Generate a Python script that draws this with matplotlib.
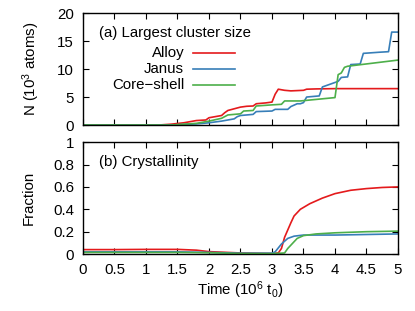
import matplotlib
matplotlib.use("Agg")
import matplotlib.pyplot as plt

plt.rcParams['font.family'] = ['Liberation Sans', 'DejaVu Sans']
plt.rcParams['mathtext.fontset'] = 'custom'
plt.rcParams['mathtext.rm'] = 'Liberation Sans'
plt.rcParams['mathtext.it'] = 'Liberation Sans'
plt.rcParams['font.size'] = 10.8

# ---- data: (a) largest cluster size (10^3 atoms) ----
alloy_t = [0, 1.2, 1.4, 1.6, 1.8, 1.95, 2.0, 2.1, 2.2, 2.25, 2.3, 2.4, 2.5, 2.6, 2.7, 2.75, 2.9, 3.0, 3.05, 3.1, 3.2, 3.3, 3.5, 3.55, 3.7, 4.0, 5.0]
alloy_n = [0, 0, 0.15, 0.4, 0.8, 0.9, 1.3, 1.5, 1.7, 2.2, 2.6, 2.9, 3.2, 3.35, 3.4, 3.8, 3.95, 4.1, 5.5, 6.4, 6.2, 6.1, 6.2, 6.4, 6.45, 6.5, 6.5]

janus_t = [0, 1.4, 1.8, 2.0, 2.2, 2.4, 2.45, 2.5, 2.7, 2.75, 3.0, 3.05, 3.25, 3.3, 3.4, 3.45, 3.5, 3.55, 3.75, 3.8, 4.0, 4.05, 4.1, 4.2, 4.25, 4.4, 4.45, 4.7, 4.85, 4.9, 5.0]
janus_n = [0, 0, 0.2, 0.4, 0.7, 1.1, 1.5, 1.7, 1.9, 2.4, 2.5, 2.8, 2.8, 3.3, 3.8, 3.8, 4.0, 5.0, 5.2, 6.8, 7.6, 7.8, 8.5, 8.6, 10.8, 10.9, 12.8, 13.0, 13.1, 16.6, 16.6]

core_t = [0, 1.4, 1.8, 2.0, 2.2, 2.3, 2.5, 2.55, 2.7, 2.75, 3.0, 3.15, 3.2, 3.45, 4.0, 4.05, 4.1, 4.15, 4.2, 5.0]
core_n = [0, 0, 0.3, 0.7, 1.2, 1.8, 2.0, 2.5, 2.6, 3.4, 3.6, 3.7, 4.3, 4.3, 4.9, 9.0, 9.3, 10.3, 10.5, 11.6]

# ---- data: (b) crystallinity fraction ----
alloy_ct = [0, 0.5, 1.0, 1.5, 1.8, 2.0, 2.5, 3.0, 3.1, 3.15, 3.2, 3.3, 3.35, 3.45, 3.6, 3.8, 4.0, 4.25, 4.5, 4.75, 5.0]
alloy_c = [0.04, 0.04, 0.042, 0.042, 0.035, 0.022, 0.01, 0.005, 0.01, 0.05, 0.15, 0.28, 0.34, 0.40, 0.45, 0.50, 0.54, 0.57, 0.585, 0.595, 0.60]

janus_ct = [0, 1.5, 2.0, 2.5, 3.0, 3.05, 3.15, 3.25, 3.35, 3.5, 4.0, 4.5, 5.0]
janus_c = [0.02, 0.02, 0.015, 0.008, 0.008, 0.02, 0.09, 0.14, 0.16, 0.17, 0.17, 0.175, 0.18]

core_ct = [0, 1.5, 2.0, 2.5, 3.0, 3.2, 3.25, 3.3, 3.4, 3.5, 3.7, 4.0, 4.5, 5.0]
core_c = [0.015, 0.015, 0.012, 0.005, 0.004, 0.01, 0.05, 0.08, 0.14, 0.165, 0.18, 0.19, 0.2, 0.205]

labels = ["Alloy", "Janus", "Core\u2212shell"]
colors = ["#e41a1c", "#377eb8", "#4daf4a"]
xticks = [0, 0.5, 1, 1.5, 2, 2.5, 3, 3.5, 4, 4.5, 5]
xticklabels = ["0", "0.5", "1", "1.5", "2", "2.5", "3", "3.5", "4", "4.5", "5"]

fig = plt.figure(figsize=(4.15, 3.11), dpi=100)
ax1 = fig.add_axes([0.2, 0.598, 0.759, 0.360])
ax2 = fig.add_axes([0.2, 0.183, 0.759, 0.360])

lw = 1.2
for t, n, c in zip([alloy_t, janus_t, core_t], [alloy_n, janus_n, core_n], colors):
    ax1.plot(t, n, color=c, lw=lw)
for t, n, c in zip([alloy_ct, janus_ct, core_ct], [alloy_c, janus_c, core_c], colors):
    ax2.plot(t, n, color=c, lw=lw)

for ax in (ax1, ax2):
    ax.set_xlim(0, 5)
    ax.set_xticks(xticks)
    ax.tick_params(direction='in', top=True, right=True, length=4, width=0.8, pad=6.5)
    for s in ax.spines.values():
        s.set_linewidth(1.0)

ax1.set_ylim(0, 20)
ax1.set_yticks([0, 5, 10, 15, 20])
ax1.set_xticklabels([])
ax2.set_ylim(0, 1)
ax2.set_yticks([0, 0.2, 0.4, 0.6, 0.8, 1])
ax2.set_yticklabels(["0", "0.2", "0.4", "0.6", "0.8", "1"])
ax2.set_xticklabels(xticklabels)

ax1.set_ylabel(r"N (10$^3$ atoms)")
ax2.set_ylabel("Fraction")
ax2.set_xlabel(r"Time (10$^6$ t$_0$)", labelpad=2)
ax1.yaxis.set_label_coords(-0.13, 0.5)
ax2.yaxis.set_label_coords(-0.15, 0.5)

ax1.text(0.051, 0.82, "(a) Largest cluster size", transform=ax1.transAxes, va='center', ha='left')
ax2.text(0.051, 0.82, "(b) Crystallinity", transform=ax2.transAxes, va='center', ha='left')

# gnuplot-style key: right-aligned labels followed by line samples
ys = [0.643, 0.5, 0.357]
for lab, c, y in zip(labels, colors, ys):
    ax1.text(0.321, y, lab, transform=ax1.transAxes, ha='right', va='center')
    ax1.plot([0.349, 0.483], [y, y], transform=ax1.transAxes, color=c, lw=lw)

fig.savefig("out.png", dpi=100)
